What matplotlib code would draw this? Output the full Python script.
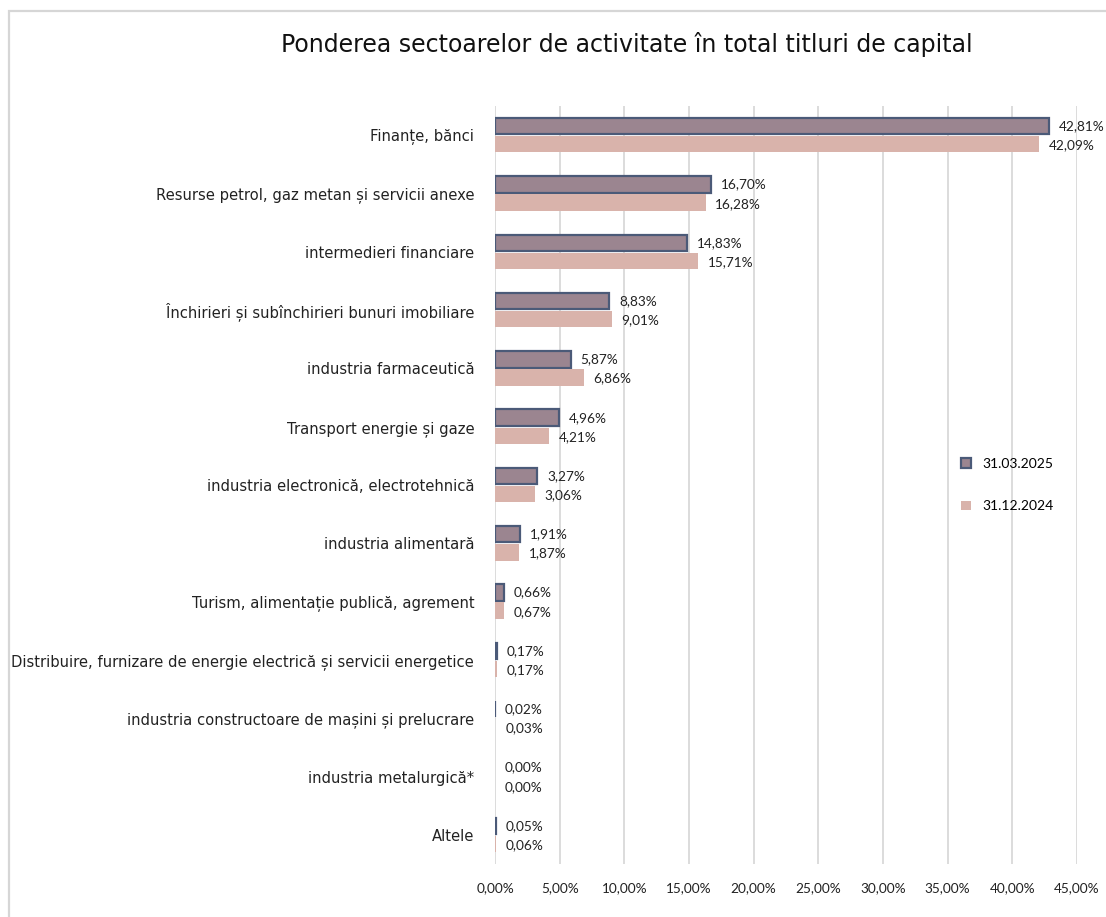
import numpy as np
import matplotlib.pyplot as plt
from matplotlib.patches import Rectangle

plt.rcParams['font.family'] = ['Lato', 'DejaVu Sans']

sectoare = [
    'Finanțe, bănci',
    'Resurse petrol, gaz metan și servicii anexe',
    'intermedieri financiare',
    'Închirieri și subînchirieri bunuri imobiliare',
    'industria farmaceutică',
    'Transport energie și gaze',
    'industria electronică, electrotehnică',
    'industria alimentară',
    'Turism, alimentație publică, agrement',
    'Distribuire, furnizare de energie electrică și servicii energetice',
    'industria constructoare de mașini și prelucrare',
    'industria metalurgică*',
    'Altele',
]
val_2025 = [42.81, 16.70, 14.83, 8.83, 5.87, 4.96, 3.27, 1.91, 0.66, 0.17, 0.02, 0.00, 0.05]
val_2024 = [42.09, 16.28, 15.71, 9.01, 6.86, 4.21, 3.06, 1.87, 0.67, 0.17, 0.03, 0.00, 0.06]
ticks = [0, 5, 10, 15, 20, 25, 30, 35, 40, 45]

def fmt(v):
    return f'{v:.2f}'.replace('.', ',') + '%'

fig = plt.figure(figsize=(11.06, 9.17), dpi=100)
ax = fig.add_axes([0.4476, 0.0578, 0.5262, 0.8266])

y = np.arange(len(sectoare))
h = 0.28
off = 0.155
lw = [1.6 if v > 0 else 0 for v in val_2025]
b1 = ax.barh(y - off, val_2025, height=h, color='#9b8590', edgecolor='#4b5a78',
             linewidth=lw, label='31.03.2025', zorder=3)
b2 = ax.barh(y + off, val_2024, height=h, color='#d9b3ab', edgecolor='none',
             label='31.12.2024', zorder=3)

for yi, v in zip(y, val_2025):
    ax.text(v + 0.75, yi - off, fmt(v), va='center', ha='left', fontsize=9.8, color='#222222')
for yi, v in zip(y, val_2024):
    ax.text(v + 0.75, yi + off + 0.02, fmt(v), va='center', ha='left', fontsize=9.8, color='#222222')

ax.set_ylim(len(sectoare) - 0.5, -0.5)
ax.set_xlim(0, 45)
ax.set_xticks(ticks)
ax.set_xticklabels([fmt(t) for t in ticks], fontsize=9.8, color='#222222')
ax.set_yticks(y)
ax.set_yticklabels(sectoare, fontsize=10.6, color='#222222',
                   family=['DejaVu Sans'])
ax.tick_params(axis='x', length=0, pad=13)
ax.tick_params(axis='y', length=0, pad=15)
ax.grid(axis='x', color='#d9d9d9', linewidth=1.3, zorder=0)
for s in ax.spines.values():
    s.set_visible(False)

ax.legend(handles=[b1, b2], loc='center left', bbox_to_anchor=(0.78, 0.5),
          frameon=False, fontsize=10, handlelength=0.7, handleheight=0.7,
          labelspacing=2.2, handletextpad=0.8)

fig.text(0.567, 0.951, 'Ponderea sectoarelor de activitate în total titluri de capital',
         ha='center', va='center', fontsize=17, color='#111111',
         family=['DejaVu Sans'])

# light frame of the original chart area (top and left edges visible)
fig.patches.append(Rectangle((0.0078, -0.05), 1.1, 1.038, transform=fig.transFigure,
                             fill=False, edgecolor='#d6d6d6', linewidth=1.6))

fig.savefig('out.png', dpi=100)
